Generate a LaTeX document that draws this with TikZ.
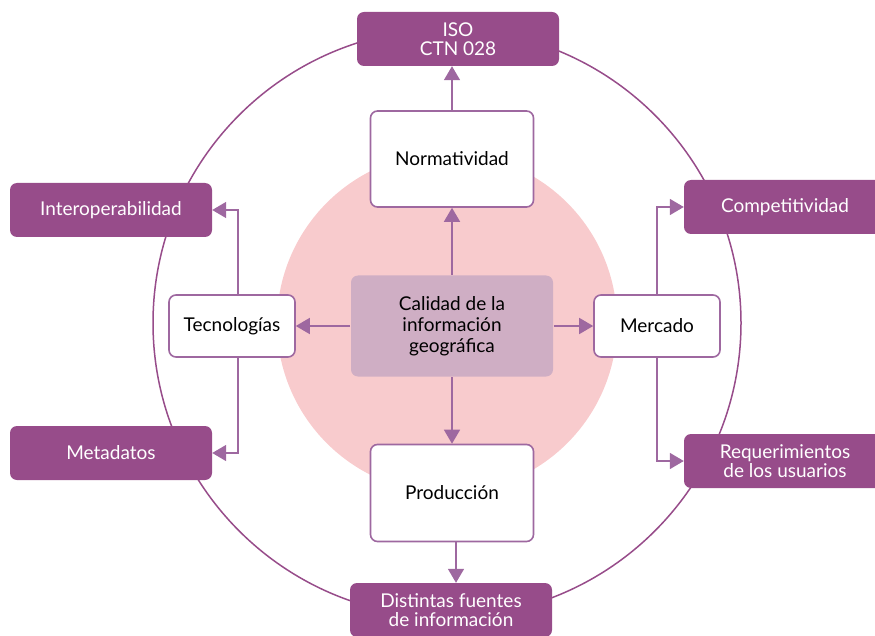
\documentclass[tikz,border=0pt]{standalone}
\usepackage{fontspec}
\setmainfont{Lato}
\usetikzlibrary{arrows.meta}
\definecolor{morado}{RGB}{151,76,138}
\definecolor{lila}{RGB}{158,104,160}
\definecolor{malva}{RGB}{207,174,196}
\definecolor{rosa}{RGB}{248,203,205}
\tikzset{
  caja/.style={draw=lila,line width=1.6pt,fill=white,rounded corners=7pt,align=center,font=\fontsize{19}{21}\selectfont},
  meta/.style={fill=morado,text=white,rounded corners=7pt,minimum width=202pt,minimum height=54pt,align=center,font=\fontsize{19}{19}\selectfont},
  flecha/.style={draw=lila,line width=1.6pt,-{Triangle[length=14pt,width=16pt]}},
}
\begin{document}
\begin{tikzpicture}[x=1pt,y=-1pt]
	\useasboundingbox (0,0) rectangle (875,636);
	\fill[rosa] (447,323) circle (170pt);
	\draw[morado,line width=1.5pt] (447,323) circle (294pt);
	% centre and the four themes
	\node[caja,fill=malva,draw=none,minimum width=202pt,minimum height=101pt] (calidad) at (452,326) {Calidad de la\\información\\geográfica};
	\node[caja,minimum width=163pt,minimum height=96pt] (norma) at (452,159) {Normatividad};
	\node[caja,minimum width=163pt,minimum height=97pt] (prod) at (452,493) {Producción};
	\node[caja,minimum width=126pt,minimum height=62pt] (tecno) at (232,326) {Tecnologías};
	\node[caja,minimum width=126pt,minimum height=62pt] (merc) at (657,326) {Mercado};
	% outer boxes
	\foreach \nombre/\pos/\texto in {iso/{458,39}/{ISO\\CTN 028}, interop/{111,210}/Interoperabilidad, metad/{111,453}/Metadatos, compet/{785,207}/Competitividad, req/{785,461}/{Requerimientos\\de los usuarios}, fuentes/{451,610}/{Distintas fuentes\\de información}} {
	  \node[meta] (\nombre) at (\pos) {\texto};
	}
	\draw[flecha] (calidad) -- (norma);
	\draw[flecha] (calidad) -- (prod);
	\draw[flecha] (calidad) -- (tecno);
	\draw[flecha] (calidad) -- (merc);
	\draw[flecha] (norma.north) -- (norma.north |- iso.south);
	\draw[flecha] ([xshift=4pt]prod.south) -- ([xshift=4pt]prod.south |- fuentes.north);
	\draw[flecha] ([xshift=6pt]tecno.north) |- (interop.east);
	\draw[flecha] ([xshift=6pt]tecno.south) |- (metad.east);
	\draw[flecha] (merc.north) |- (compet.west);
	\draw[flecha] (merc.south) |- (req.west);
\end{tikzpicture}
\end{document}
